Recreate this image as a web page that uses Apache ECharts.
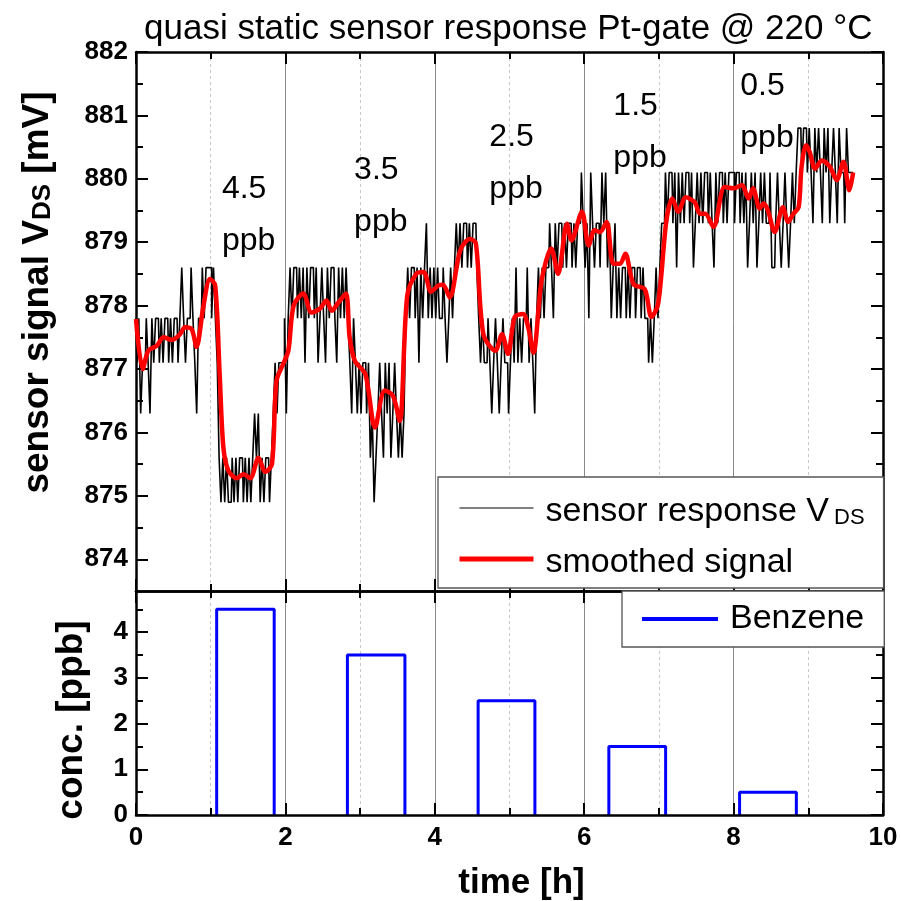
<!DOCTYPE html>
<html>
<head>
<meta charset="utf-8">
<script src="https://cdn.jsdelivr.net/npm/echarts@6/dist/echarts.min.js"></script>
<style>
  html, body { margin: 0; padding: 0; background: #fff; }
  #chart { width: 901px; height: 901px; }
</style>
</head>
<body>
<div id="chart"></div>
<script>
// quantised levels of the raw V_DS signal [mV]
const rawLevels = [874.9, 875.6, 876.3, 877.1, 877.8, 878.6, 879.3, 880.1, 880.8]
const rawStep = 0.025 // h between samples
// level index per sample, one string per hour
const rawHours = [
    '4342334324 3443434434 3443454344 5432445455',
    '5454310101 0010101101 0101212010 1101232333',
    '4245455454 5354554534 5435455435 4545432432',
    '3233231201 2321323123 2121245455 4535456454',
    '5454454345 4565656656 5665434334 3234323433',
    '2343534344 5343245454 5565465665 6566565667',
    '6564765665 7675645645 4554545545 5454434345',
    '4566767767 5767677675 6767677676 5767767677',
    '7677676756 7675676766 7556765676 5676788788',
    '7876878768 7867876877 68777'
]

// smoothed signal [h, mV]
const smoothed = [
    [0, 877.79], [0.09, 877.0], [0.165, 877.29], [0.28, 877.37], [0.37, 877.5], [0.48, 877.46],
    [0.59, 877.55], [0.656, 877.66], [0.745, 877.63], [0.81, 877.35], [0.9, 877.97], [0.99, 878.42],
    [1.06, 878.32], [1.12, 876.92], [1.17, 875.76], [1.24, 875.39], [1.35, 875.28], [1.44, 875.34],
    [1.53, 875.28], [1.64, 875.6], [1.73, 875.38], [1.82, 875.5], [1.88, 876.81], [1.97, 877.08],
    [2.04, 877.29], [2.11, 878.0], [2.24, 878.19], [2.35, 877.89], [2.46, 877.95], [2.55, 878.08],
    [2.62, 877.92], [2.71, 878.05], [2.81, 878.19], [2.86, 877.5], [2.93, 877.13], [3.07, 876.92],
    [3.2, 876.08], [3.33, 876.66], [3.44, 876.58], [3.53, 876.18], [3.63, 878.15], [3.75, 878.5],
    [3.85, 878.53], [3.95, 878.22], [4.05, 878.32], [4.11, 878.33], [4.2, 878.13], [4.34, 878.87],
    [4.47, 879.05], [4.55, 878.98], [4.65, 877.55], [4.81, 877.29], [4.9, 877.55], [4.98, 877.24],
    [5.07, 877.82], [5.18, 877.87], [5.25, 877.66], [5.32, 877.26], [5.43, 878.4], [5.56, 878.9],
    [5.65, 878.5], [5.77, 879.29], [5.83, 879.03], [5.97, 879.48], [6.06, 878.95], [6.14, 879.19],
    [6.21, 879.16], [6.3, 879.32], [6.39, 878.66], [6.48, 878.66], [6.55, 878.82], [6.66, 878.34],
    [6.81, 878.26], [6.9, 877.82], [6.99, 878.03], [7.1, 879.34], [7.18, 879.69], [7.26, 879.48],
    [7.36, 879.71], [7.48, 879.63], [7.55, 879.45], [7.62, 879.45], [7.73, 879.24], [7.88, 879.87],
    [8.0, 879.85], [8.11, 879.9], [8.2, 879.69], [8.26, 879.85], [8.35, 879.53], [8.4, 879.61],
    [8.46, 879.5], [8.55, 879.16], [8.66, 879.55], [8.73, 879.32], [8.8, 879.45], [8.87, 879.55],
    [8.91, 880.19], [8.97, 880.53], [9.02, 880.42], [9.09, 880.16], [9.18, 880.29], [9.29, 880.19],
    [9.38, 879.98], [9.47, 880.27], [9.55, 879.82], [9.6, 880.1]
]

// benzene pulses
const pulseStart = [1.08, 2.83, 4.58, 6.33, 8.08]
const pulseEnd = [1.85, 3.6, 5.34, 7.09, 8.84]
const pulseConc = [4.5, 3.5, 2.5, 1.5, 0.5]

// concentration annotations (left edge / middle of text block)
const annT = [1.15, 2.92, 4.73, 6.39, 8.09]
const annV = [879.43, 879.73, 880.25, 880.74, 881.05]

// axis ticks
const topYTicks = [874, 875, 876, 877, 878, 879, 880, 881, 882]
const topYMinor = [874.5, 875.5, 876.5, 877.5, 878.5, 879.5, 880.5, 881.5]
const botYTicks = [0, 1, 2, 3, 4]
const botYMinor = [0.5, 1.5, 2.5, 3.5, 4.5]

const FONT = 'Liberation Sans, Arial, sans-serif'

const rawData = []
rawHours.forEach((s, h) => {
    s.replace(/\s/g, '').split('').forEach((c, i) => {
        rawData.push([+(h + i * rawStep).toFixed(3), rawLevels[+c]])
    })
})

// rectangles of the gas pulses, split apart so the 0 line stays the axis
const concData = []
pulseConc.forEach((c, i) => {
    concData.push([pulseStart[i], 0], [pulseStart[i], c], [pulseEnd[i], c], [pulseEnd[i], 0], '-')
})

const annData = annT.map((t, i) => ({ value: [t, annV[i]], name: pulseConc[i] + '\nppb' }))

function xAxisCfg(gridIndex, position, opts) {
    return Object.assign({
        type: 'value', gridIndex, position, min: 0, max: 10, interval: 2,
        axisLine: { show: true, onZero: false, lineStyle: { color: '#000', width: 2.5 } },
        axisTick: { show: true, inside: true, length: 12, lineStyle: { color: '#000', width: 2 } },
        minorTick: { show: true, splitNumber: 2, length: 7, lineStyle: { color: '#000', width: 2 } },
        axisLabel: { show: false },
        splitLine: { show: false },
        minorSplitLine: { show: false }
    }, opts)
}

function yAxisCfg(gridIndex, position, min, max, ticks, len, opts) {
    return Object.assign({
        type: 'value', gridIndex, position, min, max,
        axisLine: { show: false, onZero: false, lineStyle: { color: '#000', width: 2.5 } },
        axisTick: { show: true, inside: true, length: len, customValues: ticks, lineStyle: { color: '#000', width: 2 } },
        axisLabel: { show: false, customValues: ticks },
        splitLine: { show: false }
    }, opts)
}

const gridLines = {
    splitLine: { show: true, lineStyle: { color: '#8a8a8a', width: 1 } },
    minorSplitLine: { show: true, lineStyle: { color: '#c8c8c8', width: 1, type: [3, 3] } }
}

const tickLabel = { show: true, color: '#000', fontSize: 26, fontWeight: 'bold', fontFamily: FONT }
const axisLineOn = { show: true, onZero: false, lineStyle: { color: '#000', width: 2.5 } }
const noSymbol = { color: 'rgba(0,0,0,0)', borderWidth: 0 }

const chart = echarts.init(document.getElementById('chart'), null, { renderer: 'canvas' })

chart.setOption({
    animation: false,
    backgroundColor: '#fff',
    title: {
        text: 'quasi static sensor response Pt-gate @ 220 °C',
        left: 139, top: 7,
        textStyle: { color: '#000', fontSize: 35, fontWeight: 'normal', fontFamily: FONT }
    },
    grid: [
        { left: 136, right: 18, top: 52, height: 539, outerBoundsMode: 'none' },
        { left: 136, right: 18, top: 591, height: 224, outerBoundsMode: 'none' }
    ],
    xAxis: [
        xAxisCfg(0, 'bottom', gridLines),
        xAxisCfg(0, 'top'),
        xAxisCfg(1, 'bottom', {
            z: 5,
            axisLabel: Object.assign({ margin: 10 }, tickLabel),
            name: 'time [h]', nameLocation: 'middle', nameGap: 51,
            nameTextStyle: { color: '#000', fontSize: 35, fontWeight: 'bold', fontFamily: FONT, padding: [0, 0, 0, 24] }
        }),
        xAxisCfg(1, 'top', gridLines)
    ],
    yAxis: [
        yAxisCfg(0, 'left', 873.5, 882, topYTicks, 12, {
            axisLine: axisLineOn,
            axisLabel: Object.assign({ customValues: topYTicks, margin: 8 }, tickLabel),
            name: '{a|sensor signal V}{s|DS}{a| [mV]}', nameLocation: 'middle', nameGap: 80,
            nameTextStyle: {
                padding: [0, 0, 0, 58],
                rich: {
                    a: { color: '#000', fontSize: 37, fontWeight: 'bold', fontFamily: FONT, lineHeight: 42, verticalAlign: 'bottom' },
                    s: { color: '#000', fontSize: 26, fontWeight: 'bold', fontFamily: FONT, lineHeight: 20, verticalAlign: 'bottom' }
                }
            }
        }),
        yAxisCfg(0, 'left', 873.5, 882, topYMinor, 7),
        yAxisCfg(0, 'right', 873.5, 882, topYTicks, 12, { axisLine: axisLineOn }),
        yAxisCfg(0, 'right', 873.5, 882, topYMinor, 7),
        yAxisCfg(1, 'left', 0, 4.9, botYTicks, 12, {
            axisLine: axisLineOn,
            axisLabel: Object.assign({ customValues: botYTicks, margin: 8 }, tickLabel),
            name: 'conc. [ppb]', nameLocation: 'middle', nameGap: 46,
            nameTextStyle: { color: '#000', fontSize: 37, fontWeight: 'bold', fontFamily: FONT, padding: [0, 34, 0, 0] }
        }),
        yAxisCfg(1, 'left', 0, 4.9, botYMinor, 7),
        yAxisCfg(1, 'right', 0, 4.9, botYTicks, 12, { axisLine: axisLineOn }),
        yAxisCfg(1, 'right', 0, 4.9, botYMinor, 7)
    ],
    legend: [
        {
            data: [
                { name: 'sensor response VDS', itemStyle: noSymbol, lineStyle: { color: '#000', width: 1.2 } },
                { name: 'smoothed signal', itemStyle: noSymbol, lineStyle: { color: '#ff0000', width: 5 } }
            ],
            orient: 'vertical', left: 438, top: 477,
            padding: [10, 19, 8, 19], itemGap: 9, itemWidth: 74, itemHeight: 42,
            backgroundColor: '#fff', borderColor: '#555', borderWidth: 1.3, borderRadius: 0,
            formatter: name => name === 'sensor response VDS' ? '{a|sensor response V}{s|DS}' : '{a|' + name + '}',
            textStyle: {
                lineHeight: 42,
                rich: {
                    a: { color: '#000', fontSize: 34, fontFamily: FONT, lineHeight: 42, verticalAlign: 'bottom', padding: [0, 0, 0, 7] },
                    s: { color: '#000', fontSize: 22, fontFamily: FONT, lineHeight: 16, verticalAlign: 'bottom', padding: [0, 0, 0, 5] }
                }
            }
        },
        {
            data: [{ name: 'Benzene', itemStyle: noSymbol, lineStyle: { color: '#0000ff', width: 4 } }],
            orient: 'vertical', left: 622, top: 591,
            padding: [7, 20, 7, 18], itemWidth: 76, itemHeight: 14,
            backgroundColor: '#fff', borderColor: '#555', borderWidth: 1.3, borderRadius: 0,
            textStyle: { color: '#000', fontSize: 34, fontFamily: FONT, lineHeight: 42, padding: [0, 0, 0, 7] }
        }
    ],
    series: [
        {
            name: 'sensor response VDS', type: 'line', xAxisIndex: 0, yAxisIndex: 0,
            data: rawData, symbol: 'none', step: 'middle', color: '#000',
            lineStyle: { color: '#000', width: 1.6 }
        },
        {
            name: 'smoothed signal', type: 'line', xAxisIndex: 0, yAxisIndex: 0,
            data: smoothed, symbol: 'none', smooth: 0.3, color: '#ff0000',
            lineStyle: { color: '#ff0000', width: 4.5 }
        },
        {
            name: 'annotations', type: 'scatter', xAxisIndex: 0, yAxisIndex: 0,
            data: annData, symbolSize: 0, silent: true,
            itemStyle: { opacity: 1 },
            label: {
                show: true, position: 'inside', align: 'left', verticalAlign: 'middle',
                formatter: p => p.name, opacity: 1,
                color: '#000', fontSize: 32, fontFamily: FONT, lineHeight: 52
            }
        },
        {
            name: 'Benzene', type: 'line', xAxisIndex: 2, yAxisIndex: 4,
            data: concData, symbol: 'none', color: '#0000ff', connectNulls: false,
            lineStyle: { color: '#0000ff', width: 3 }
        }
    ]
})
</script>
</body>
</html>
